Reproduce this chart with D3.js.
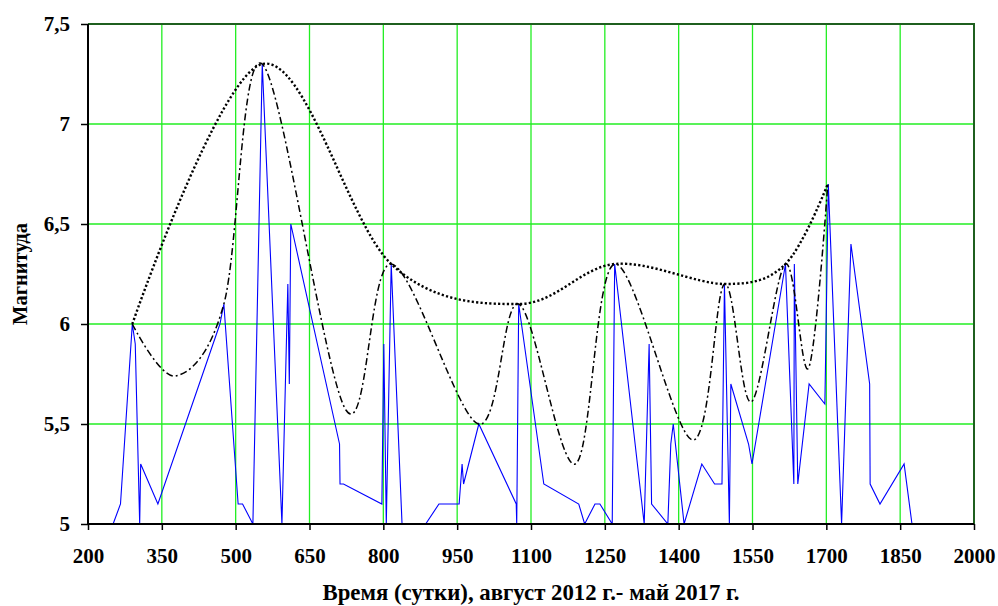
<!DOCTYPE html>
<html>
<head>
<meta charset="utf-8">
<script src="https://cdn.jsdelivr.net/npm/d3@7"></script>
<style>
  html, body { margin: 0; padding: 0; background: #fff; }
  svg { display: block; }
</style>
</head>
<body>
<svg id="chart" width="998" height="606"></svg>
<script>
// Earthquake magnitudes over time (days)
const eventDays = [251, 266, 290, 296, 305, 307, 342, 468, 476, 505, 514, 535, 554, 594, 606, 609, 612,
  711, 712, 719, 797, 801, 806, 816, 838, 886, 913, 954, 960, 963, 994, 1070, 1071, 1075, 1126,
  1197, 1209, 1230, 1240, 1265, 1270, 1330, 1340, 1345, 1378, 1384, 1389, 1411, 1447, 1473, 1488,
  1493, 1503, 1506, 1542, 1549, 1617, 1634, 1635, 1642, 1665, 1697, 1699, 1704, 1731, 1750, 1788,
  1789, 1809, 1858, 1874, 1950];
const eventMags = [5.0, 5.1, 6.0, 5.9, 5.0, 5.3, 5.1, 6.0, 6.1, 5.1, 5.1, 5.0, 7.3, 5.0, 6.2, 5.7, 6.5,
  5.4, 5.2, 5.2, 5.1, 5.9, 5.0, 6.3, 5.0, 5.0, 5.1, 5.1, 5.3, 5.2, 5.5, 5.1, 5.0, 6.1, 5.2,
  5.1, 5.0, 5.1, 5.1, 5.0, 6.3, 5.0, 5.9, 5.1, 5.0, 5.4, 5.5, 5.0, 5.3, 5.2, 5.2,
  6.2, 5.0, 5.7, 5.4, 5.3, 6.3, 5.2, 6.3, 5.2, 5.7, 5.6, 5.9, 6.7, 5.0, 6.4, 5.7,
  5.2, 5.1, 5.3, 5.0, 5.0];

// Upper envelope (dotted)
const envDays = [290, 554, 816, 1075, 1270, 1493, 1617, 1703];
const envMags = [6.0, 7.3, 6.3, 6.1, 6.3, 6.2, 6.3, 6.7];

// Peaks and troughs (dash-dot)
const waveDays = [290, 378, 476, 554, 724, 816, 993, 1075, 1190, 1270, 1428, 1493, 1547, 1617, 1664, 1703];
const waveMags = [6.0, 5.74, 6.1, 7.3, 5.57, 6.3, 5.5, 6.1, 5.3, 6.3, 5.42, 6.2, 5.61, 6.3, 5.78, 6.7];

const xTicks = [200, 350, 500, 650, 800, 950, 1100, 1250, 1400, 1550, 1700, 1850, 2000];
const yTicks = [5, 5.5, 6, 6.5, 7, 7.5];

const xTitle = "Время (сутки), август 2012 г.- май 2017 г.";
const yTitle = "Магнитуда";

const FONT = "Liberation Serif";

const svg = d3.select("#chart");
const m = { left: 88, top: 24, right: 974, bottom: 524 };

const x = d3.scaleLinear().domain([200, 2000]).range([m.left, m.right]);
const y = d3.scaleLinear().domain([5, 7.5]).range([m.bottom, m.top]);
const fmt = v => String(v).replace(".", ",");

// grid
const grid = svg.append("g");
grid.selectAll("line.v").data(xTicks.slice(1, -1)).join("line")
  .attr("x1", d => x(d)).attr("x2", d => x(d))
  .attr("y1", m.top).attr("y2", m.bottom)
  .attr("stroke", "#22ee22").attr("stroke-width", 1.3);
grid.selectAll("line.h").data(yTicks.slice(1, -1)).join("line")
  .attr("x1", m.left).attr("x2", m.right)
  .attr("y1", d => y(d)).attr("y2", d => y(d))
  .attr("stroke", "#22ee22").attr("stroke-width", 1.3);

// top/right frame
svg.append("path")
  .attr("d", `M${m.left},${m.top}H${m.right}V${m.bottom}`)
  .attr("fill", "none").attr("stroke", "#1f5f1f").attr("stroke-width", 2);

svg.append("clipPath").attr("id", "plotclip").append("rect")
  .attr("x", m.left).attr("y", m.top - 2).attr("width", m.right - m.left).attr("height", m.bottom - m.top + 2);

const plot = svg.append("g").attr("clip-path", "url(#plotclip)");

const events = eventDays.map((d, i) => [d, eventMags[i]]);
const env = envDays.map((d, i) => [d, envMags[i]]);
const wave = waveDays.map((d, i) => [d, waveMags[i]]);

plot.append("path").datum(events)
  .attr("d", d3.line().x(d => x(d[0])).y(d => y(d[1])))
  .attr("fill", "none").attr("stroke", "#0000ff").attr("stroke-width", 1.1);

plot.append("path").datum(wave)
  .attr("d", d3.line().x(d => x(d[0])).y(d => y(d[1])).curve(d3.curveCardinal.tension(0)))
  .attr("fill", "none").attr("stroke", "#000").attr("stroke-width", 1.5)
  .attr("stroke-dasharray", "7,3,2,3");

plot.append("path").datum(env)
  .attr("d", d3.line().x(d => x(d[0])).y(d => y(d[1])).curve(d3.curveCardinal.tension(0)))
  .attr("fill", "none").attr("stroke", "#000").attr("stroke-width", 2.4)
  .attr("stroke-dasharray", "2.2,2.2");

// axes
const xAxis = svg.append("g").attr("transform", `translate(0,${m.bottom})`)
  .call(d3.axisBottom(x).tickValues(xTicks).tickSize(6).tickPadding(18).tickFormat(d => d));
const yAxis = svg.append("g").attr("transform", `translate(${m.left},0)`)
  .call(d3.axisLeft(y).tickValues(yTicks).tickSize(7).tickPadding(11).tickFormat(fmt));
[xAxis, yAxis].forEach(a => {
  a.attr("font-family", FONT).attr("font-size", 21);
  a.select(".domain").attr("stroke", "#000").attr("stroke-width", 2);
  a.selectAll(".tick line").attr("stroke", "#000").attr("stroke-width", 1.5);
  a.selectAll("text").attr("font-weight", "bold").attr("fill", "#000");
});
yAxis.select(".domain").attr("d", `M0,${m.top}V${m.bottom}`);
xAxis.select(".domain").attr("d", `M${m.left},0H${m.right}`);

svg.append("text").attr("x", (m.left + m.right) / 2).attr("y", 600)
  .attr("text-anchor", "middle")
  .attr("font-family", FONT).attr("font-weight", "bold").attr("font-size", 22.8)
  .text(xTitle);
svg.append("text").attr("transform", `translate(27,${(m.top + m.bottom) / 2}) rotate(-90)`)
  .attr("text-anchor", "middle")
  .attr("font-family", FONT).attr("font-weight", "bold").attr("font-size", 20.5)
  .text(yTitle);
</script>
</body>
</html>
